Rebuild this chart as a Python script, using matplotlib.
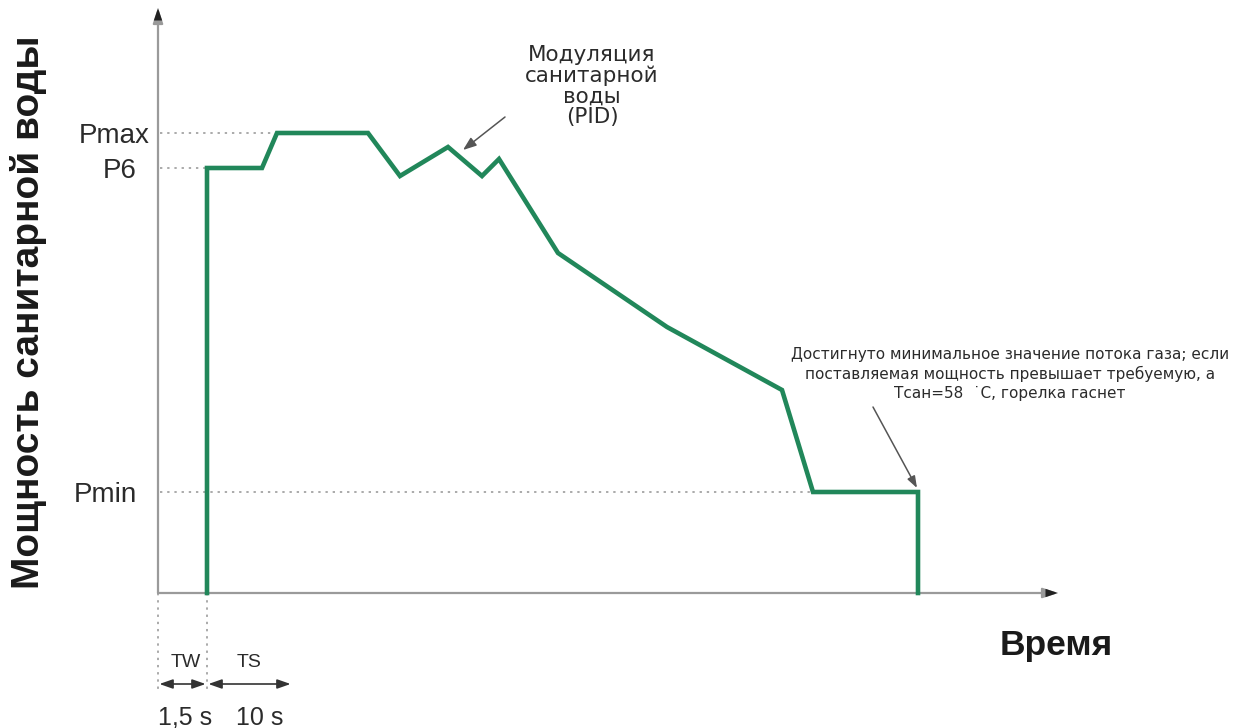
import matplotlib
matplotlib.use("Agg")
import matplotlib.pyplot as plt

# Burner power profile for domestic hot water (schematic units: time right, power up)
time_pts = [49, 49, 104, 119, 210, 242, 290, 324, 341, 400, 509, 624, 655, 760, 760]
power_pts = [0, 425, 425, 460, 460, 417, 446, 417, 434, 340, 266, 203, 101, 101, 0]

level_names = ["Pmax", "P6", "Pmin"]
level_values = [460, 425, 101]
level_ends = [119, 49, 655]

phase_names = ["TW", "TS"]
phase_durations = ["1,5 s", "10 s"]
phase_bounds = [0, 49, 134]

LINE_GREEN = "#21875a"
AXIS_GREY = "#9a9a9a"
TEXT_DARK = "#2b2b2b"

fig = plt.figure(figsize=(12.37, 7.28), dpi=100)
ax = fig.add_axes([0, 0, 1, 1])
ax.set_xlim(-158, 1079)
ax.set_ylim(-135, 593)
ax.axis("off")

# Axes with arrowheads
head = "-|>,head_length=0.9,head_width=0.3"
ax.annotate("", xy=(0, 585), xytext=(0, 0),
            arrowprops=dict(arrowstyle=head, color=AXIS_GREY, lw=1.6, shrinkA=0, shrinkB=0))
ax.annotate("", xy=(900, 0), xytext=(0, 0),
            arrowprops=dict(arrowstyle=head, color=AXIS_GREY, lw=1.6, shrinkA=0, shrinkB=0))
ax.annotate("", xy=(0, 585), xytext=(0, 570),
            arrowprops=dict(arrowstyle=head, color="#222222", lw=0, shrinkA=0, shrinkB=0))
ax.annotate("", xy=(900, 0), xytext=(880, 0),
            arrowprops=dict(arrowstyle=head, color="#222222", lw=0, shrinkA=0, shrinkB=0))

# Reference levels
for name, val, end in zip(level_names, level_values, level_ends):
    ax.plot([2, end], [val, val], linestyle=(0, (1.2, 2.5)), color="#aaaaaa", lw=1.4, zorder=1)
label_right = {"Pmax": -8, "P6": -21, "Pmin": -21}
for name, val in zip(level_names, level_values):
    ax.text(label_right[name], val - 10, name, ha="right", va="baseline", fontsize=20,
            color=TEXT_DARK, family="Liberation Sans")

# Power curve
ax.plot(time_pts, power_pts, color=LINE_GREEN, lw=3.3, solid_joinstyle="miter", zorder=3)

# Phase markers below the time axis
for b in phase_bounds[:2]:
    ax.plot([b, b], [0, -97], linestyle=(0, (1.2, 2.5)), color="#aaaaaa", lw=1.4)
arrow_y = -91
name_x = [28, 91.5]
dur_x = [27, 101.5]
for i, (name, dur) in enumerate(zip(phase_names, phase_durations)):
    x0, x1 = phase_bounds[i], phase_bounds[i + 1]
    style = "<|-|>,head_length=0.8,head_width=0.28"
    ax.annotate("", xy=(x1, arrow_y), xytext=(x0, arrow_y),
                arrowprops=dict(arrowstyle=style, color="#333333", lw=1.2,
                                shrinkA=1, shrinkB=1))
    ax.text(name_x[i], -74, name, ha="center", va="baseline",
            fontsize=14, color=TEXT_DARK, family="Liberation Sans")
    ax.text(dur_x[i], -132, dur, ha="center", va="baseline", fontsize=18,
            color=TEXT_DARK, family="Liberation Sans")

# Axis titles
ax.text(-129, 281, "Мощность санитарной воды", rotation=90, ha="center", va="center",
        fontsize=28, fontweight="bold", color="#1a1a1a", family="Liberation Sans")
ax.text(898, -62, "Время", ha="center", va="baseline", fontsize=25.5,
        fontweight="bold", color="#1a1a1a", family="Liberation Sans")

# Annotations
ax.text(434, 507, "Модуляция\nсанитарной\nводы\n(PID)", ha="center", va="center",
        fontsize=15.5, color=TEXT_DARK, family="DejaVu Sans", linespacing=1.05)
ax.annotate("", xy=(305, 443), xytext=(347, 476),
            arrowprops=dict(arrowstyle="-|>,head_length=0.8,head_width=0.3",
                            color="#555555", lw=1.1, shrinkA=0, shrinkB=0))
ax.text(852, 219,
        "Достигнуто минимальное значение потока газа; если\n"
        "поставляемая мощность превышает требуемую, а\n"
        "Тсан=58  ˙С, горелка гаснет",
        ha="center", va="center", fontsize=11, color=TEXT_DARK,
        family="DejaVu Sans", linespacing=1.3)
ax.annotate("", xy=(759, 105), xytext=(715, 186),
            arrowprops=dict(arrowstyle="-|>,head_length=0.7,head_width=0.25",
                            color="#555555", lw=1.1, shrinkA=0, shrinkB=0))

fig.savefig("out.png", dpi=100, facecolor="white")
